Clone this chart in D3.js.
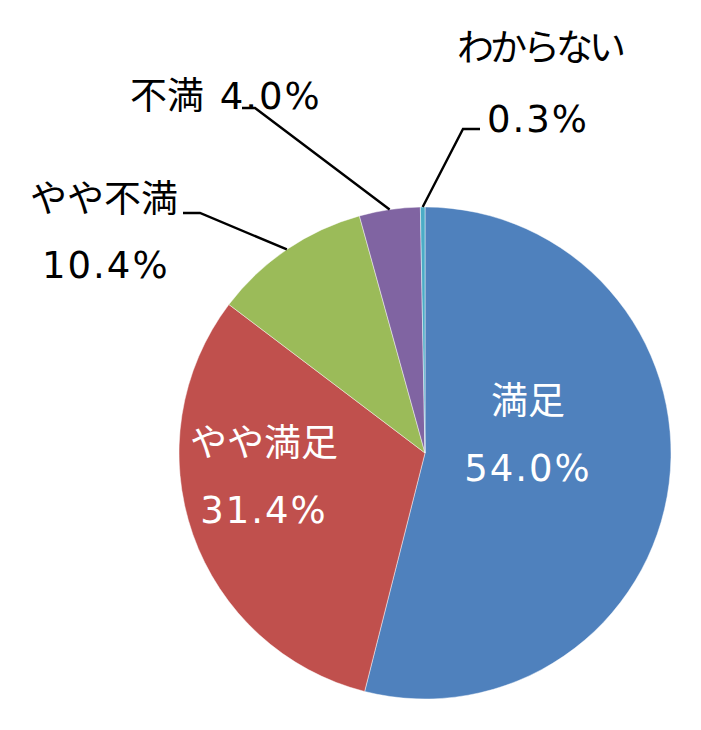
<!DOCTYPE html>
<html>
<head>
<meta charset="utf-8">
<script src="https://cdn.jsdelivr.net/npm/d3@7"></script>
<style>
  html, body { margin: 0; padding: 0; background: #fff; }
  svg { display: block; }
  text { font-family: "DejaVu Sans", "Noto Sans CJK JP", sans-serif; }
</style>
</head>
<body>
<div id="chart"></div>
<script>
// ---- data ------------------------------------------------------------------
const categories = ["満足", "やや満足", "やや不満", "不満", "わからない"];
const values     = [54.0, 31.4, 10.4, 4.0, 0.3];
const colors     = ["#4F81BD", "#C0504D", "#9BBB59", "#8064A2", "#4BACC6"];

// ---- layout ----------------------------------------------------------------
const W = 701, H = 730;
const cx = 425, cy = 453, R = 246;
const FONT = 37;

// label placement per slice: inside labels are centred, outside labels have a
// leader line (elbow at [ex, ey], horizontal stub to hx)
const labelLayout = [
    { inside: true, x: 528, lines: [{ t: "name", y: 414 }, { t: "pct", y: 481 }] },
    { inside: true, x: 264, lines: [{ t: "name", y: 456 }, { t: "pct", y: 523 }] },
    { x: 30, lines: [{ t: "name", y: 212 }, { t: "pct", y: 278, x: 42 }],
      leader: { hx: 183, ex: 200, ey: 213 } },
    { x: 130, lines: [{ t: "both", y: 109 }],
      leader: { hx: 242, ex: 255, ey: 108 } },
    { x: 457, lines: [{ t: "name", y: 61, ls: -4 }, { t: "pct", y: 132, x: 487 }],
      leader: { hx: 480, ex: 463, ey: 129 } }
];

const svg = d3.select("#chart").append("svg")
    .attr("width", W).attr("height", H)
    .attr("viewBox", `0 0 ${W} ${H}`);

const pie = d3.pie().sort(null).value(d => d);
const arcs = pie(values);
const arc = d3.arc().innerRadius(0).outerRadius(R);

const g = svg.append("g").attr("transform", `translate(${cx}, ${cy})`);

g.selectAll("path.slice")
    .data(arcs)
    .join("path")
    .attr("class", "slice")
    .attr("d", arc)
    .attr("fill", (d, i) => colors[i])
    .attr("stroke", "#fff")
    .attr("stroke-opacity", 0.6)
    .attr("stroke-width", 0.75);

// leader lines: from the slice edge at its mid-angle to the elbow, then a stub
const fmt = v => v.toFixed(1) + "%";
arcs.forEach((a, i) => {
    const L = labelLayout[i];
    if (!L.leader) return;
    const mid = (a.startAngle + a.endAngle) / 2;
    const px = cx + R * Math.sin(mid), py = cy - R * Math.cos(mid);
    svg.append("polyline")
        .attr("points", `${px},${py} ${L.leader.ex},${L.leader.ey} ${L.leader.hx},${L.leader.ey}`)
        .attr("fill", "none")
        .attr("stroke", "#000")
        .attr("stroke-width", 2.4);
});

// labels: percent digits get a little tracking, DejaVu is narrower than the original
const PCT_LS = 2;
arcs.forEach((a, i) => {
    const L = labelLayout[i];
    L.lines.forEach(ln => {
        const t = svg.append("text")
            .attr("x", ln.x ?? L.x)
            .attr("y", ln.y)
            .attr("text-anchor", L.inside ? "middle" : "start")
            .style("font-size", FONT + "px")
            .style("fill", L.inside ? "#fff" : "#000");
        if (ln.t === "name") {
            t.style("letter-spacing", (ln.ls ?? 0) + "px").text(categories[i]);
        } else if (ln.t === "pct") {
            t.style("letter-spacing", PCT_LS + "px").text(fmt(values[i]));
        } else {
            t.append("tspan").text(categories[i] + " ");
            t.append("tspan").attr("dx", 4)
                .style("letter-spacing", PCT_LS + "px").text(fmt(values[i]));
        }
    });
});
</script>
</body>
</html>
